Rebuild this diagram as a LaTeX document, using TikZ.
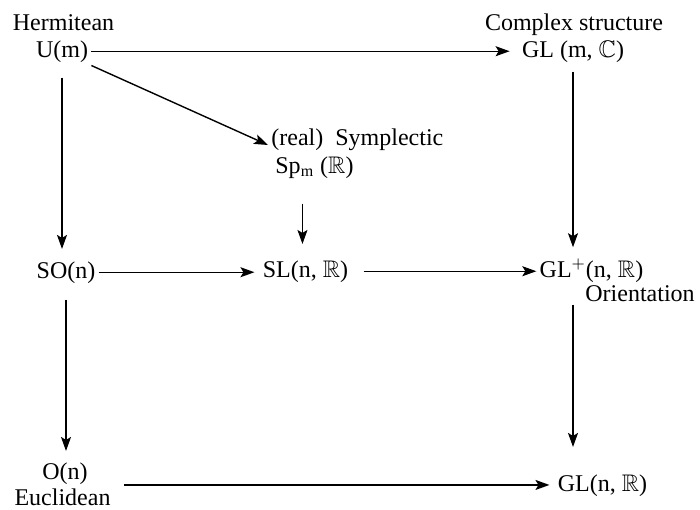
\documentclass[tikz,border=0pt]{standalone}
\usepackage{amsmath}
\usepackage{amssymb}
\usepackage{fontspec}
\setmainfont{Liberation Serif}
\usepackage{tikz}
\usetikzlibrary{
  arrows.meta,
  positioning,
  calc
}

\begin{document}
\begin{tikzpicture}[x=0.5pt, y=-0.5pt,
  every node/.style={font=\fontsize{12}{14}\selectfont, inner sep=1.5pt},
  grp/.style={anchor=base},
  map/.style={-{Stealth[length=7pt,width=5pt,inset=1.5pt]}, line width=0.7pt}]
  \useasboundingbox (0,0) rectangle (700,509);

  % groups and their names
  \node[grp] (herm) at (63.5,30) {Hermitean};
  \node[grp] (um) at (62,57) {U(m)};
  \node[grp] (cplx) at (574,30) {Complex structure};
  \node[grp] (glc) at (573,57) {GL (m, $\mathbb{C}$)};
  \node[grp, anchor=base west] (real) at (268,145) {(real)\ \ Symplectic};
  \node[grp, anchor=base west] (sp) at (272,173) {Sp$_{\mathrm{m}}$ ($\mathbb{R}$)};
  \node[grp] (so) at (66,278) {SO(n)};
  \node[grp] (sl) at (305.5,277) {SL(n, $\mathbb{R}$)};
  \node[grp] (glp) at (591.5,277) {GL$^{+}$(n, $\mathbb{R}$)};
  \node[grp, anchor=base west] (orient) at (582,301) {Orientation};
  \node[grp] (on) at (65,479) {O(n)};
  \node[grp] (eucl) at (62.5,505) {Euclidean};
  \node[grp] (gln) at (602.5,491) {GL(n, $\mathbb{R}$)};

  % inclusions
  \draw[map, shorten >=4.5pt] (um.east) -- (um.east -| glc.west);
  \draw[map] (um.south east) -- (real.base west);
  \draw[map, shorten <=6pt, shorten >=4.5pt] (um.south) -- (um.south |- so.north);
  \draw[map, shorten <=3pt, shorten >=4pt] (glc.south) -- (glc.south |- glp.north);
  \draw[map, shorten <=11pt, shorten >=6.5pt] ([xshift=-6pt]sp.south) -- ([xshift=-6pt]sp.south |- sl.north);
  \draw[map, shorten >=2.5pt] (so.east) -- (so.east -| sl.west);
  \draw[map, shorten <=6pt] (sl.east) -- (sl.east -| glp.west);
  \draw[map, shorten <=6.5pt, shorten >=4pt] (so.south) -- (so.south |- on.north);
  \draw[map, shorten >=12pt] (orient.south -| glc.south) -- (glc.south |- gln.north);
  \draw[map, shorten <=5pt, shorten >=2.5pt] (eucl.north east) -- (eucl.north east -| gln.west);
\end{tikzpicture}
\end{document}
